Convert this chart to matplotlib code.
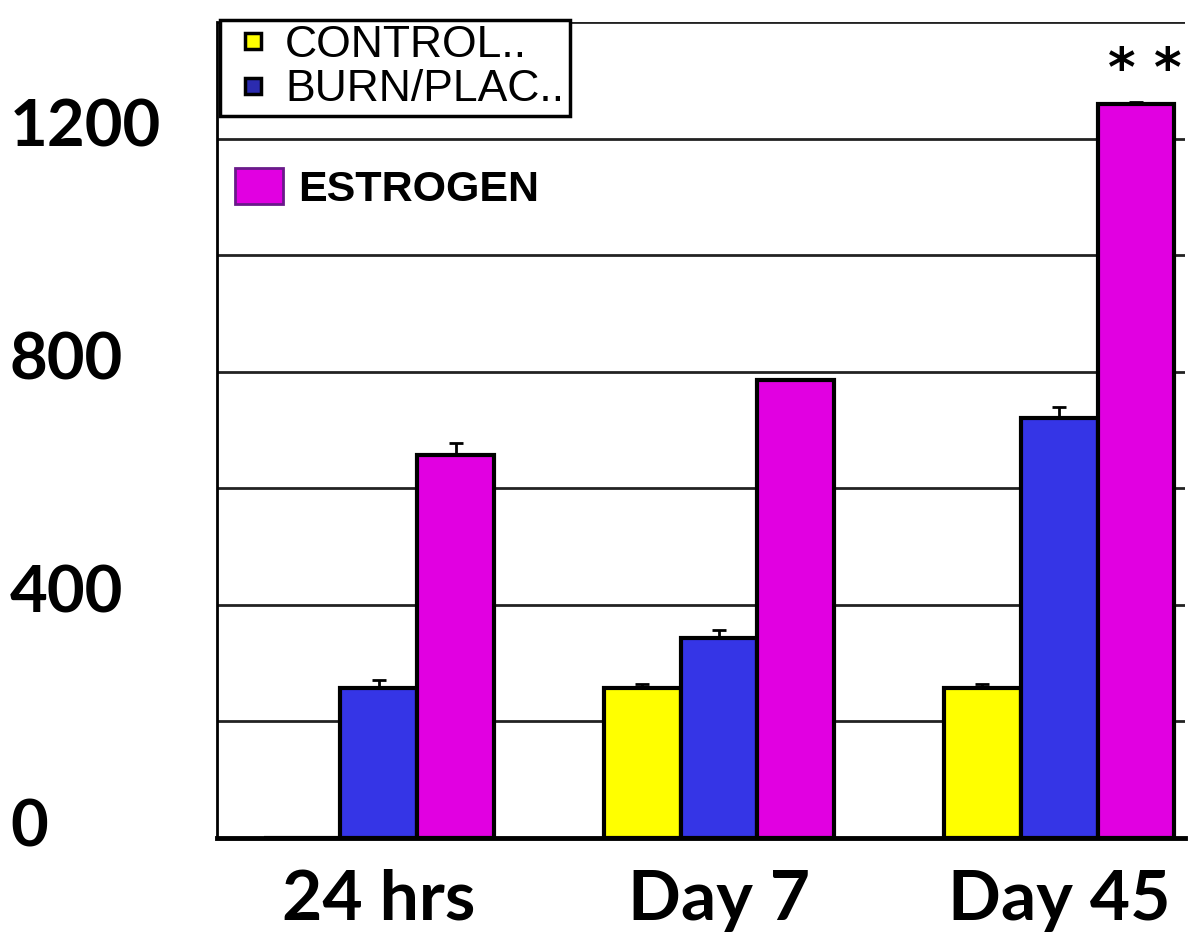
import numpy as np
import matplotlib
matplotlib.use("Agg")
import matplotlib.pyplot as plt
import matplotlib.transforms as mtransforms
from matplotlib.patches import Patch
from matplotlib.lines import Line2D

# data
groups = ["24 hrs", "Day 7", "Day 45"]
control = [0, 257, 257]
burn = [257, 343, 720]
estrogen = [657, 786, 1259]
control_err = [0, 8, 8]
burn_err = [14, 14, 20]
estrogen_err = [20, 0, 4]
ytick_vals = [0, 400, 800, 1200]

fig = plt.figure(figsize=(12, 9.49), dpi=100)
ax = fig.add_axes([217 / 1200, 1 - 838 / 949, 968 / 1200, 816 / 949])

x = np.arange(len(groups))
w = 0.226
cols = ["#FFFF00", "#3535E6", "#E100E1"]
series = [control, burn, estrogen]
errs = [control_err, burn_err, estrogen_err]
for i, (vals, err, c) in enumerate(zip(series, errs, cols)):
    pos = x + (i - 1) * w
    ax.bar(pos, vals, w, color=c, edgecolor="black", linewidth=3, zorder=3)
    ax.errorbar(pos, vals, yerr=[np.zeros(len(err)), err], fmt="none",
                ecolor="black", elinewidth=2, capsize=5, capthick=2, zorder=4)

ax.set_xlim(-0.476, 2.37)
ax.set_ylim(0, 1400)
ax.set_yticks(np.arange(0, 1401, 200))
ax.yaxis.grid(True, color="#222222", linewidth=2)
ax.set_axisbelow(True)
ax.tick_params(axis="y", length=0, labelleft=False)
ax.set_xticks(x)
ax.set_xticklabels(groups, fontsize=50, fontweight="bold", family="Lato")
ax.tick_params(axis="x", length=0, pad=22)
for s in ["top", "right"]:
    ax.spines[s].set_visible(False)
ax.spines["left"].set_linewidth(2)
ax.spines["bottom"].set_linewidth(3.5)

# y labels, left aligned at the figure edge
tr = mtransforms.blended_transform_factory(fig.transFigure, ax.transData)
for v in ytick_vals:
    ax.text(10 / 1200, v + 18, str(v), transform=tr, ha="left", va="center",
            fontsize=47, fontweight="bold", family="Lato")

# significance marks
ax.annotate("* *", (x[2] + w, estrogen[2]), xytext=(6, 24),
            textcoords="offset points", ha="center", va="center",
            fontsize=38, fontweight="bold")

h1 = [Line2D([], [], marker="s", linestyle="none", markersize=12,
             markerfacecolor=cols[0], markeredgecolor="black", markeredgewidth=2.5),
      Line2D([], [], marker="s", linestyle="none", markersize=12,
             markerfacecolor="#2B2BB0", markeredgecolor="black", markeredgewidth=2.5)]
leg1 = ax.legend(h1, ["CONTROL..", "BURN/PLAC.."], loc="upper left",
                 bbox_to_anchor=(0.003, 1.003), borderaxespad=0,
                 prop={"family": "Liberation Sans", "size": 32},
                 handlelength=1.25, handletextpad=0.1,
                 labelspacing=0.08, borderpad=0.12, fancybox=False,
                 edgecolor="black", framealpha=1)
leg1.get_frame().set_linewidth(2.5)
leg1.set_zorder(5)
ax.add_artist(leg1)

h2 = [Patch(facecolor=cols[2], edgecolor="#6a1a8a", linewidth=2)]
leg2 = ax.legend(h2, ["ESTROGEN"], loc="center left",
                 bbox_to_anchor=(0.019, 0.795), borderaxespad=0,
                 prop={"family": "Liberation Sans", "size": 31, "weight": "bold"},
                 handlelength=1.1, handleheight=0.9, handletextpad=0.35,
                 borderpad=0, frameon=False)
leg2.set_zorder(5)

fig.savefig("out.png", dpi=100, facecolor="white")
